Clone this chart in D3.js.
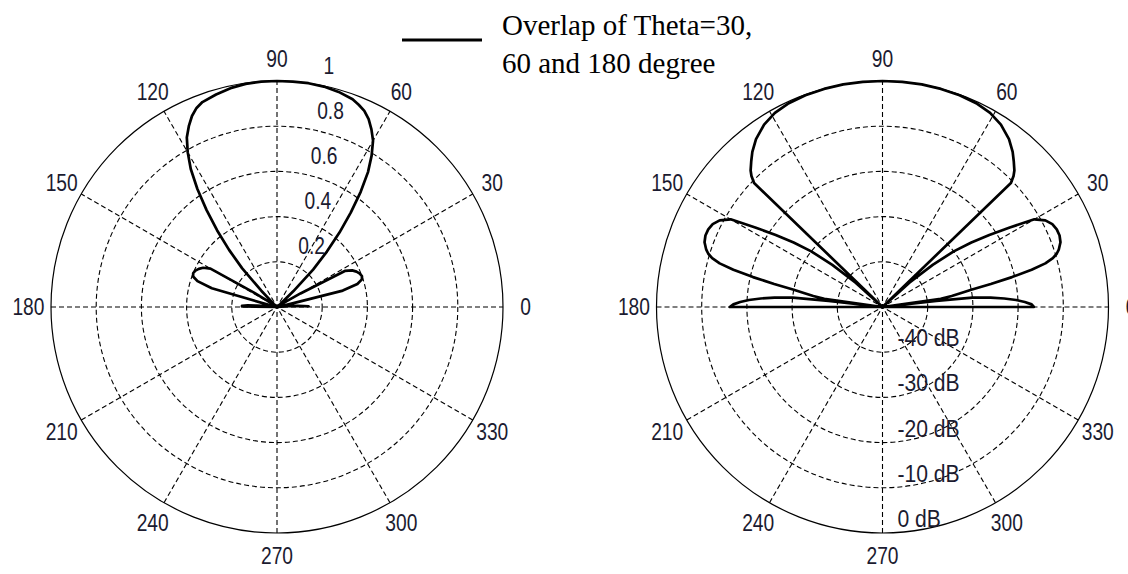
<!DOCTYPE html>
<html>
<head>
<meta charset="utf-8">
<script src="https://cdn.jsdelivr.net/npm/d3@7"></script>
<style>
  html, body { margin: 0; padding: 0; background: #ffffff; }
  svg { display: block; }
</style>
</head>
<body>
<svg id="chart" width="1128" height="574"></svg>
<script>
// ---------------- data ----------------
const angleTicks = [0, 30, 60, 90, 120, 150, 180, 210, 240, 270, 300, 330];
const angleTickLabels = ["0", "30", "60", "90", "120", "150", "180", "210", "240", "270", "300", "330"];

const linTicks = [0.2, 0.4, 0.6, 0.8, 1];
const linTickLabels = ["0.2", "0.4", "0.6", "0.8", "1"];

const dbTicks = [-40, -30, -20, -10, 0];
const dbTickLabels = ["-40 dB", "-30 dB", "-20 dB", "-10 dB", "0 dB"];

// left plot: angle (deg) and normalised linear amplitude
const linAngles = [
  0, 1, 2, 3, 4, 5, 6, 8, 10, 12, 14, 16, 18, 20, 22, 24, 26, 28, 30, 32, 34, 36, 38, 40, 42, 44,
  46, 48, 50, 52, 54, 56, 58, 60, 62, 64, 66, 68, 70, 74, 78, 82, 86, 90,
  94, 98, 102, 106, 110, 112, 114, 116, 118, 120, 122, 124, 126, 128, 130, 132, 134,
  136, 138, 140, 142, 144, 146, 148, 150, 152, 154, 156, 158, 160, 162, 164, 166, 168, 170, 172,
  174, 175, 176, 177, 178, 179, 180, 181
];
const linValues = [
  0.14, 0.14, 0.12, 0.09, 0.05, 0.02, 0.0, 0.0, 0.0, 0.03, 0.30, 0.37, 0.395, 0.40, 0.395, 0.385, 0.37, 0.34, 0.12, 0.03, 0.0, 0.0, 0.0, 0.0, 0.02, 0.10,
  0.23, 0.33, 0.43, 0.53, 0.63, 0.72, 0.79, 0.85, 0.89, 0.925, 0.95, 0.965, 0.978, 0.99, 0.997, 1.0, 1.0, 1.0,
  1.0, 0.997, 0.99, 0.978, 0.965, 0.95, 0.925, 0.89, 0.85, 0.79, 0.72, 0.63, 0.53, 0.43, 0.33,
  0.23, 0.10, 0.02, 0.0, 0.0, 0.0, 0.0, 0.03, 0.12, 0.34, 0.37, 0.385, 0.395, 0.40, 0.395, 0.37, 0.30, 0.03, 0.0, 0.0,
  0.0, 0.02, 0.05, 0.09, 0.13, 0.155, 0.155, 0.0
];

// right plot: angle (deg) and level in dB (values at/below -50 dB sit at the origin)
const dbAngles = [
  0, 1, 2, 3, 4, 5, 6, 6.5, 7, 8, 9, 10, 11, 12, 13, 14, 15, 16, 17, 18, 20, 22, 24, 26, 28, 30, 32, 34, 36, 38, 40, 42, 43,
  44, 45, 46, 48, 50, 53, 57, 61, 65, 70, 75, 80, 85, 90,
  95, 100, 105, 110, 115, 119, 123, 127, 130, 132, 134, 135, 136, 137,
  138, 140, 142, 144, 146, 148, 150, 152, 154, 156, 158, 160, 162, 163, 164, 165, 166, 167, 168, 169, 170, 171, 172, 173, 173.5, 174,
  175, 176, 177, 178, 179, 180, 181
];
const dbValues = [
  -16.5, -17, -18.5, -20.4, -23, -26, -30, -38, -50, -37, -34.5, -32.5, -30, -25.5, -20.6, -16, -12.7, -10.8, -9.7, -9.0, -8.1, -7.75, -7.8, -8.2, -9.2, -11.2, -16.8, -21.5, -25.7, -30, -35.5, -42, -50,
  -10.5, -9.0, -8.0, -6.6, -5.2, -3.5, -1.9, -0.9, -0.4, -0.15, -0.05, 0, 0, 0,
  0, 0, -0.05, -0.15, -0.4, -0.9, -1.9, -3.5, -5.2, -6.6, -8.0, -9.0, -10.5, -50,
  -42, -35.5, -30, -25.7, -21.5, -16.8, -11.2, -9.2, -8.2, -7.8, -7.75, -8.1, -9.0, -9.7, -10.8, -12.7, -16, -20.6, -25.5, -30, -32.5, -34.5, -37, -50, -38, -30,
  -26, -23, -20.4, -18.5, -17, -16.2, -60
];

const legendText = ["Overlap of Theta=30,", "60 and 180 degree"];

// ---------------- drawing ----------------
const svg = d3.select("#chart");
const R = 226;
const cy = 307;
const plots = [
  { cx: 277, kind: "lin" },
  { cx: 882.5, kind: "db" }
];

const labelFont = "'Liberation Sans', Arial, Helvetica, sans-serif";
const labelColor = "#1b1b30";
const deg = Math.PI / 180;

plots.forEach(p => {
  const g = svg.append("g").attr("transform", `translate(${p.cx},${cy})`);
  const rScale = p.kind === "lin"
    ? d3.scaleLinear().domain([0, 1]).range([0, R]).clamp(true)
    : d3.scaleLinear().domain([-50, 0]).range([0, R]).clamp(true);
  const ticks = p.kind === "lin" ? linTicks : dbTicks;
  const tickLabels = p.kind === "lin" ? linTickLabels : dbTickLabels;
  const outer = p.kind === "lin" ? 1 : 0;

  // spokes (full diameters every 30 degrees)
  const spokeAngles = angleTicks.filter(a => a < 180);
  g.selectAll("line.spoke").data(spokeAngles).enter().append("line")
    .attr("class", "spoke")
    .attr("x1", a => -R * Math.cos(a * deg))
    .attr("y1", a => R * Math.sin(a * deg))
    .attr("x2", a => R * Math.cos(a * deg))
    .attr("y2", a => -R * Math.sin(a * deg))
    .attr("stroke", "#000").attr("stroke-width", 1.1)
    .attr("stroke-dasharray", "5,3");

  // rings
  g.selectAll("circle.ring").data(ticks).enter().append("circle")
    .attr("class", "ring")
    .attr("r", v => rScale(v))
    .attr("fill", "none")
    .attr("stroke", "#000")
    .attr("stroke-width", v => v === outer ? 1.2 : 1.1)
    .attr("stroke-dasharray", v => v === outer ? null : "5,3");

  // angle labels
  g.selectAll("text.ang").data(angleTicks).enter().append("text")
    .attr("class", "ang")
    .attr("transform", a => `translate(${1.1 * R * Math.cos(a * deg)},${-1.1 * R * Math.sin(a * deg)}) scale(0.8,1)`)
    .attr("text-anchor", "middle")
    .attr("dominant-baseline", "central")
    .attr("font-family", labelFont)
    .attr("font-size", 24)
    .attr("fill", labelColor)
    .text((a, i) => angleTickLabels[i]);

  // radial labels
  g.selectAll("text.rad").data(ticks).enter().append("text")
    .attr("class", "rad")
    .attr("transform", v => {
      const x = p.kind === "lin" ? rScale(v) * Math.cos(82 * deg) + 15 : 15;
      const y = p.kind === "lin" ? -rScale(v) * Math.sin(82 * deg) - 17 : rScale(v) - 14;
      return `translate(${x},${y}) scale(${p.kind === "lin" ? 0.8 : 0.88},1)`;
    })
    .attr("text-anchor", "start")
    .attr("dominant-baseline", "central")
    .attr("font-family", labelFont)
    .attr("font-size", 24)
    .attr("fill", labelColor)
    .text((v, i) => tickLabels[i]);

  // pattern trace
  const angs = p.kind === "lin" ? linAngles : dbAngles;
  const vals = p.kind === "lin" ? linValues : dbValues;
  const pts = angs.map((a, i) => [a, vals[i]]);
  const line = d3.lineRadial()
    .angle(d => Math.PI / 2 - d[0] * deg)
    .radius(d => rScale(d[1]))
    .curve(d3.curveLinearClosed);
  g.append("path")
    .datum(pts)
    .attr("d", line)
    .attr("fill", "none")
    .attr("stroke", "#000")
    .attr("stroke-width", 2.7)
    .attr("stroke-linejoin", "round");
});

// legend
const lg = svg.append("g");
lg.append("line")
  .attr("x1", 402).attr("x2", 482).attr("y1", 40).attr("y2", 40)
  .attr("stroke", "#000").attr("stroke-width", 3.2);
lg.selectAll("text").data(legendText).enter().append("text")
  .attr("x", 502)
  .attr("y", (d, i) => 35 + i * 38)
  .attr("font-family", "'Liberation Serif', 'Times New Roman', serif")
  .attr("font-size", 29)
  .attr("fill", "#000")
  .text(d => d);
</script>
</body>
</html>
